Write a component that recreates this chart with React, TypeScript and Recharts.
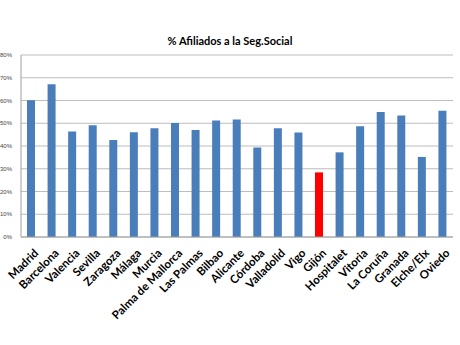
import React from "react";
import { BarChart, Bar, XAxis, YAxis, CartesianGrid, Cell } from "recharts";

const cities = [
  "Madrid", "Barcelona", "Valencia", "Sevilla", "Zaragoza", "Málaga", "Murcia",
  "Palma de Mallorca", "Las Palmas", "Bilbao", "Alicante", "Córdoba", "Valladolid",
  "Vigo", "Gijón", "Hospitalet", "Vitoria", "La Coruña", "Granada", "Elche/Elx", "Oviedo",
];
const afiliados = [
  60.1, 67.1, 46.4, 49.1, 42.6, 46.0, 47.8, 50.1, 47.0, 51.2, 51.6, 39.3, 47.8,
  45.9, 28.4, 37.2, 48.7, 55.0, 53.4, 35.2, 55.5,
];
const highlighted = "Gijón";
const yTicks = [0, 10, 20, 30, 40, 50, 60, 70, 80];
const title = "% Afiliados a la Seg.Social";

const data = cities.map((c, i) => ({ city: c, value: afiliados[i] }));

const XTick = (props: any) => {
  const { x, y, payload } = props;
  return (
    <g transform={`translate(${x + 5},${y + 6})`}>
      <text
        x={0}
        y={0}
        textAnchor="end"
        transform="rotate(-45)"
        fontFamily="Lato, sans-serif"
        fontWeight="bold"
        fontSize={11.5}
        fill="#000"
        dy={4}
      >
        {payload.value}
      </text>
    </g>
  );
};

export default function App() {
  return (
    <div style={{ position: "absolute", left: 0, top: 0, width: 460, height: 345, background: "#fff" }}>
      <div
        style={{
          position: "absolute",
          left: 0,
          top: 34,
          width: 460,
          textAlign: "center",
          fontFamily: "Lato, sans-serif",
          fontWeight: "bold",
          fontSize: 11,
          color: "#000",
        }}
      >
        {title}
      </div>
      <BarChart
        width={460}
        height={345}
        data={data}
        margin={{ top: 55, right: 7, bottom: 0, left: 1 }}
      >
        <CartesianGrid vertical={false} stroke="#bdbdbd" />
        <XAxis
          dataKey="city"
          interval={0}
          height={108}
          tickLine={false}
          axisLine={{ stroke: "#a0a0a0" }}
          tick={<XTick />}
        />
        <YAxis
          width={20}
          domain={[0, 80]}
          ticks={yTicks}
          interval={0}
          tickFormatter={(v: number) => `${v}%`}
          tickLine={false}
          axisLine={{ stroke: "#a0a0a0" }}
          tick={{ fontSize: 6, fill: "#444", fontFamily: "Liberation Sans, sans-serif" }}
          tickMargin={3}
        />
        <Bar dataKey="value" barSize={8} isAnimationActive={false}>
          {data.map((d) => (
            <Cell key={d.city} fill={d.city === highlighted ? "#ff0000" : "#4a7ebb"} />
          ))}
        </Bar>
      </BarChart>
    </div>
  );
}
